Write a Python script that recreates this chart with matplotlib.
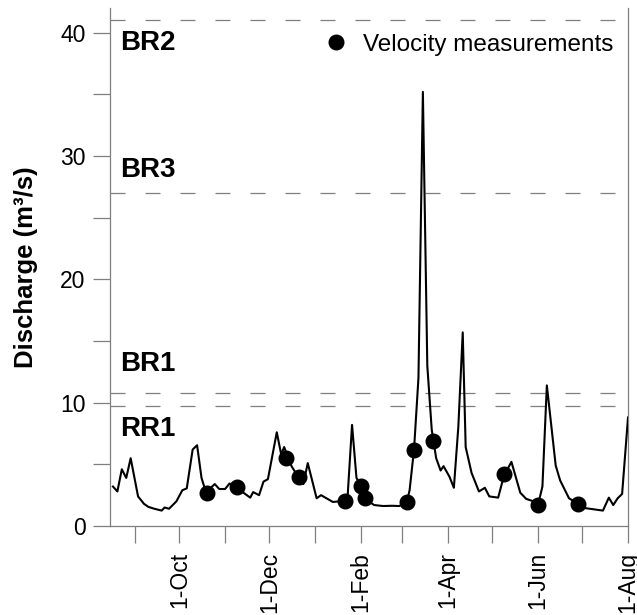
import numpy as np
import matplotlib
matplotlib.use('Agg')
from matplotlib import pyplot as plt
import matplotlib.dates as mdates

# daily-ish discharge series (m3/s)
dates = ['2010-08-17', '2010-08-20', '2010-08-23', '2010-08-26', '2010-08-29',
         '2010-09-03', '2010-09-07', '2010-09-10', '2010-09-14', '2010-09-19',
         '2010-09-21', '2010-09-24', '2010-09-29', '2010-10-03', '2010-10-06',
         '2010-10-10', '2010-10-13', '2010-10-16', '2010-10-19', '2010-10-25',
         '2010-10-28', '2010-11-01', '2010-11-04', '2010-11-06', '2010-11-14',
         '2010-11-18', '2010-11-20', '2010-11-24', '2010-11-27', '2010-11-30',
         '2010-12-06', '2010-12-09', '2010-12-11', '2010-12-16', '2010-12-21',
         '2010-12-24', '2010-12-27', '2011-01-02', '2011-01-05', '2011-01-13',
         '2011-01-22', '2011-01-23', '2011-01-26', '2011-01-29', '2011-02-01',
         '2011-02-05', '2011-02-10', '2011-02-16', '2011-02-22', '2011-02-27',
         '2011-03-04', '2011-03-06', '2011-03-09', '2011-03-12', '2011-03-15',
         '2011-03-18', '2011-03-21', '2011-03-24', '2011-03-27', '2011-03-29',
         '2011-04-02', '2011-04-05', '2011-04-08', '2011-04-11', '2011-04-13',
         '2011-04-17', '2011-04-22', '2011-04-26', '2011-04-29', '2011-05-05',
         '2011-05-09', '2011-05-14', '2011-05-20', '2011-05-24', '2011-05-29',
         '2011-06-01', '2011-06-04', '2011-06-07', '2011-06-13', '2011-06-16',
         '2011-06-22', '2011-06-28', '2011-07-03', '2011-07-09', '2011-07-15',
         '2011-07-19', '2011-07-22', '2011-07-25', '2011-07-28', '2011-08-01']
discharge = [3.2, 2.8, 4.6, 3.9, 5.5,
             2.4, 1.8, 1.55, 1.4, 1.25,
             1.5, 1.4, 2.0, 2.9, 3.05,
             6.2, 6.55, 3.9, 2.75, 3.4,
             3.0, 3.0, 3.45, 3.25, 2.65,
             2.3, 2.75, 2.5, 3.6, 3.8,
             7.6, 5.8, 6.4, 4.85, 3.9,
             3.4, 5.1, 2.25, 2.5, 1.95,
             2.05, 2.4, 8.2, 3.9, 3.3,
             2.1, 1.7, 1.62, 1.64, 1.62,
             1.9, 2.9, 6.2, 12.0, 35.2,
             13.0, 7.8, 5.5, 4.5, 4.85,
             4.0, 3.1, 8.0, 15.7, 6.4,
             4.3, 2.8, 3.1, 2.4, 2.3,
             4.1, 5.2, 2.7, 2.2, 2.0,
             1.7, 3.2, 11.4, 4.9, 3.7,
             2.25, 1.8, 1.45, 1.35, 1.25,
             2.3, 1.7, 2.25, 2.6, 8.8]

# velocity measurement dates and discharge
meas_dates = ['2010-10-20', '2010-11-09', '2010-12-12', '2010-12-21', '2011-01-21',
              '2011-02-01', '2011-02-04', '2011-03-04', '2011-03-09', '2011-03-22',
              '2011-05-09', '2011-06-01', '2011-06-28']
meas_q = [2.65, 3.15, 5.5, 3.95, 2.05,
          3.25, 2.3, 1.95, 6.2, 6.9,
          4.2, 1.7, 1.82]

# threshold discharges
thr_names = ['BR2', 'BR3', 'BR1', 'RR1']
thr_values = [41.0, 27.0, 10.8, 9.7]
thr_label_y = [39.2, 28.9, 13.1, 7.9]

x = np.array(dates, dtype='datetime64[D]')
xm = np.array(meas_dates, dtype='datetime64[D]')

plt.rcParams['font.family'] = ['Liberation Sans', 'DejaVu Sans']
plt.rcParams['lines.scale_dashes'] = False
gray = '#7f7f7f'

fig = plt.figure(figsize=(6.37, 6.15), dpi=100)
ax = fig.add_axes([0.1727, 0.1447, 0.8132, 0.8423])

for v in thr_values:
    ax.axhline(v, color=gray, lw=0.9, dashes=(10.8, 14.4))

ax.plot(x, discharge, color='black', lw=1.5, zorder=3)
ax.plot(xm, meas_q, 'o', color='black', ms=10.5, zorder=4, label='Velocity measurements')

for name, yl in zip(thr_names, thr_label_y):
    ax.text(0.02, yl, name, transform=ax.get_yaxis_transform(), fontsize=20,
            fontweight='bold', va='center', ha='left')

ax.set_xlim(np.datetime64('2010-08-15'), np.datetime64('2011-08-01'))
ax.set_ylim(0, 42)

ax.xaxis.set_major_locator(mdates.MonthLocator(bymonth=[2, 4, 6, 8, 10, 12]))
ax.xaxis.set_minor_locator(mdates.MonthLocator())
ax.xaxis.set_major_formatter(mdates.DateFormatter('1-%b'))
ax.set_yticks([0, 10, 20, 30, 40])
ax.set_yticks([5, 15, 25, 35], minor=True)

for lbl in ax.get_xticklabels():
    lbl.set_rotation(90)
ax.tick_params(which='both', direction='out', length=12.5, width=0.9, color=gray,
               labelsize=16.5)
ax.tick_params(axis='x', pad=6)
ax.tick_params(axis='y', pad=5)

ax.spines['top'].set_visible(False)
for s in ['left', 'right', 'bottom']:
    ax.spines[s].set_color(gray)
    ax.spines[s].set_linewidth(0.9)

ax.set_ylabel('Discharge (m³/s)', fontsize=18.5, fontweight='bold', labelpad=16)

ax.legend(loc='upper right', bbox_to_anchor=(1.0, 0.978), frameon=False, fontsize=17.5,
          handletextpad=0.5, borderaxespad=0.2, handlelength=1.2)

fig.savefig('out.png', dpi=100)
